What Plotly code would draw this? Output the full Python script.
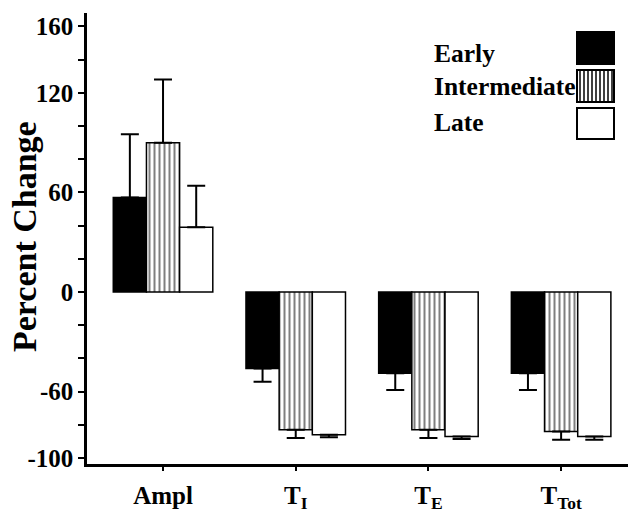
import plotly.graph_objects as go

# ---- data ----
categories = ["Ampl", "T<sub>I</sub>", "T<sub>E</sub>", "T<sub>Tot</sub>"]
series_names = ["Early", "Intermediate", "Late"]
early = [57, -46, -49, -49]
early_err = [38, 8, 10, 10]
intermediate = [90, -83, -83, -84]
intermediate_err = [38, 5, 5, 5]
late = [39, -86, -87, -87]
late_err = [25, 1.5, 1.5, 2]
y_tick_vals = [-100, -60, 0, 60, 120, 160]
y_tick_labels = ["-100", "-60", "0", "60", "120", "160"]
y_minor_vals = [-80, -40, -20, 20, 40, 80, 100, 140]

FONT = "Liberation Serif"
W, H = 628, 513
L, R, T, B = 87, 628, 13, 464


def px(x):
    return (x - L) / (R - L)


def py(y):
    return (B - y) / (B - T)


def err(values, errs):
    plus = [e if v >= 0 else 0 for v, e in zip(values, errs)]
    minus = [e if v < 0 else 0 for v, e in zip(values, errs)]
    return dict(type="data", symmetric=False, array=plus, arrayminus=minus,
                color="black", thickness=2, width=9)


fig = go.Figure()
fig.add_trace(go.Bar(
    x=categories, y=early, name=series_names[0],
    marker=dict(color="black", line=dict(color="black", width=1.5)),
    error_y=err(early, early_err)))
fig.add_trace(go.Bar(
    x=categories, y=intermediate, name=series_names[1],
    marker=dict(color="white", line=dict(color="black", width=1.5),
                pattern=dict(shape="|", fgcolor="black", bgcolor="white",
                             size=5, solidity=0.4, fillmode="overlay")),
    error_y=err(intermediate, intermediate_err)))
fig.add_trace(go.Bar(
    x=categories, y=late, name=series_names[2],
    marker=dict(color="white", line=dict(color="black", width=1.5)),
    error_y=err(late, late_err)))

# ---- legend (text left, swatch right) ----
shapes = []
annotations = []
legend_rows = [(53, 32, 64), (86, 70, 102), (122, 108, 139)]
for i, (name, (ty, y0, y1)) in enumerate(zip(series_names, legend_rows)):
    annotations.append(dict(x=px(432), y=py(ty), xref="paper", yref="paper",
                            text=name, showarrow=False, xanchor="left",
                            yanchor="middle",
                            font=dict(family=FONT, size=25.5, color="black",
                                      weight="bold")))
    fill = "black" if i == 0 else "white"
    shapes.append(dict(type="rect", xref="paper", yref="paper",
                       x0=px(577), x1=px(614), y0=py(y1), y1=py(y0),
                       fillcolor=fill, line=dict(color="black", width=2)))
    if i == 1:
        xx = 580
        while xx < 613:
            shapes.append(dict(type="line", xref="paper", yref="paper",
                               x0=px(xx), x1=px(xx), y0=py(y1), y1=py(y0),
                               line=dict(color="black", width=1.5)))
            xx += 4

annotations.append(dict(x=px(24), y=py(237), xref="paper", yref="paper",
                        text="Percent Change", showarrow=False, textangle=-90,
                        xanchor="center", yanchor="middle",
                        font=dict(family=FONT, size=34, color="black",
                                  weight="bold")))

fig.update_layout(
    width=W, height=H,
    margin=dict(l=L, r=W - R, t=T, b=H - B, pad=0, autoexpand=False),
    paper_bgcolor="white", plot_bgcolor="white",
    barmode="group", bargap=0.25, bargroupgap=0,
    showlegend=False,
    font=dict(family=FONT, size=25, color="black", weight="bold"),
    shapes=shapes, annotations=annotations,
)
fig.update_xaxes(
    type="category", range=[-0.573, 3.504], automargin=False,
    showline=True, linecolor="black", linewidth=2.5,
    ticks="outside", ticklen=4, tickwidth=1.5, tickcolor="black",
    ticklabelstandoff=3,
    showgrid=False, zeroline=False,
    tickfont=dict(family=FONT, size=25, color="black", weight="bold"),
)
fig.update_yaxes(
    range=[-103.6, 168.1], automargin=False,
    tickmode="array", tickvals=y_tick_vals, ticktext=y_tick_labels,
    showline=True, linecolor="black", linewidth=2.5,
    ticks="outside", ticklen=6, tickwidth=2, tickcolor="black",
    minor=dict(tickmode="array", tickvals=y_minor_vals, ticks="outside",
               ticklen=6, tickwidth=2, tickcolor="black", showgrid=False),
    showgrid=False, zeroline=False,
    tickfont=dict(family=FONT, size=25, color="black", weight="bold"),
)

fig.write_html("out.html")
